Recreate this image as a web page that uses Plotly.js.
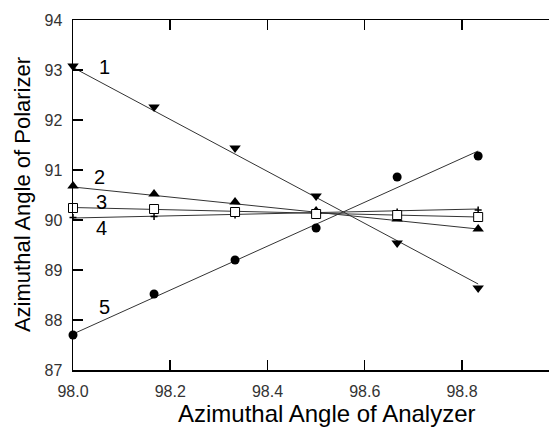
<!DOCTYPE html>
<html>
<head>
<meta charset="utf-8">
<script src="https://cdn.plot.ly/plotly-3.0.1.min.js"></script>
<style>html,body{margin:0;padding:0;background:#fff;}#chart{width:549px;height:429px;}</style>
</head>
<body>
<div id="chart"></div>
<script>
// Analyzer azimuthal angles (x)
const analyzer = [98.0, 98.1667, 98.3333, 98.5, 98.6667, 98.8333];
// Polarizer azimuthal angles for each curve
const series1 = [93.08, 92.26, 91.44, 90.48, 89.54, 88.64];
const series2 = [90.68, 90.52, 90.36, 90.18, 90.02, 89.82];
const series3 = [90.24, 90.22, 90.16, 90.12, 90.10, 90.06];
const series4 = [90.05, 90.07, 90.10, 90.14, 90.16, 90.20];
const series5 = [87.70, 88.52, 89.20, 89.84, 90.86, 91.28];
// fitted straight lines: endpoint values
const fitX = [98.0, 98.8333];
const fit1 = [93.05, 88.72];
const fit2 = [90.66, 89.82];
const fit3 = [90.25, 90.06];
const fit4 = [90.04, 90.22];
const fit5 = [87.72, 91.38];
const curveLabels = ['1', '2', '3', '4', '5'];
const labelX = [98.064, 98.055, 98.059, 98.058, 98.065];
const labelY = [93.06, 90.86, 90.36, 89.84, 88.26];
const xTicks = [98.0, 98.2, 98.4, 98.6, 98.8];
const yTicks = [87, 88, 89, 90, 91, 92, 93, 94];
const xTitle = 'Azimuthal Angle of Analyzer';
const yTitle = 'Azimuthal Angle of Polarizer';

const FONT = 'Liberation Sans, Arial, sans-serif';
const lineStyle = {color: '#333', width: 1};
const fits = [fit1, fit2, fit3, fit4, fit5];
const traces = [];
fits.forEach(f => traces.push({x: fitX, y: f, mode: 'lines', line: lineStyle, hoverinfo: 'skip', cliponaxis: false}));
traces.push({x: analyzer, y: series1, mode: 'markers', cliponaxis: false, marker: {symbol: 'triangle-down', size: 10, color: '#000'}});
traces.push({x: analyzer, y: series2, mode: 'markers', cliponaxis: false, marker: {symbol: 'triangle-up', size: 10, color: '#000'}});
traces.push({x: analyzer, y: series4, mode: 'markers', cliponaxis: false, marker: {symbol: 'cross-thin', size: 5, color: '#000', line: {color: '#000', width: 1.5}}});
traces.push({x: analyzer, y: series3, mode: 'markers', cliponaxis: false, marker: {symbol: 'square', size: 9, color: '#fff', line: {color: '#000', width: 1}}});
traces.push({x: analyzer, y: series5, mode: 'markers', cliponaxis: false, marker: {symbol: 'circle', size: 9, color: '#000'}});

const annotations = curveLabels.map((t, i) => ({
  x: labelX[i], y: labelY[i], text: t, showarrow: false,
  xanchor: 'center', yanchor: 'middle', font: {family: FONT, size: 20, color: '#000'}
}));
annotations.push({xref: 'paper', yref: 'paper', x: 0.534, y: -0.125, xanchor: 'center', yanchor: 'middle',
  text: xTitle, showarrow: false, font: {family: FONT, size: 24, color: '#000'}});
annotations.push({xref: 'paper', yref: 'paper', x: -0.107, y: 0.5, xanchor: 'center', yanchor: 'middle', textangle: -90,
  text: yTitle, showarrow: false, font: {family: FONT, size: 22, color: '#000'}});

const layout = {
  width: 549, height: 429,
  margin: {l: 73, r: 0, t: 20, b: 59},
  paper_bgcolor: '#fff', plot_bgcolor: '#fff',
  showlegend: false,
  font: {family: FONT, color: '#000'},
  xaxis: {
    range: [98.0, 98.979], tickvals: xTicks, ticktext: xTicks.map(v => v.toFixed(1)),
    ticks: 'inside', ticklen: 10, tickwidth: 1.5, tickcolor: '#000',
    showline: true, linecolor: '#000', linewidth: 1.5, mirror: 'ticks',
    showgrid: false, zeroline: false, ticklabelstandoff: 6,
    tickfont: {size: 16, color: '#333'}
  },
  yaxis: {
    range: [87, 94], tickvals: yTicks,
    ticks: 'inside', ticklen: 10, tickwidth: 1.5, tickcolor: '#000',
    showline: true, linecolor: '#000', linewidth: 1.5, mirror: false,
    showgrid: false, zeroline: false, ticklabelstandoff: 6,
    tickfont: {size: 16, color: '#333'}
  },
  annotations: annotations
};
Plotly.newPlot('chart', traces, layout, {displayModeBar: false, staticPlot: true});
</script>
</body>
</html>
